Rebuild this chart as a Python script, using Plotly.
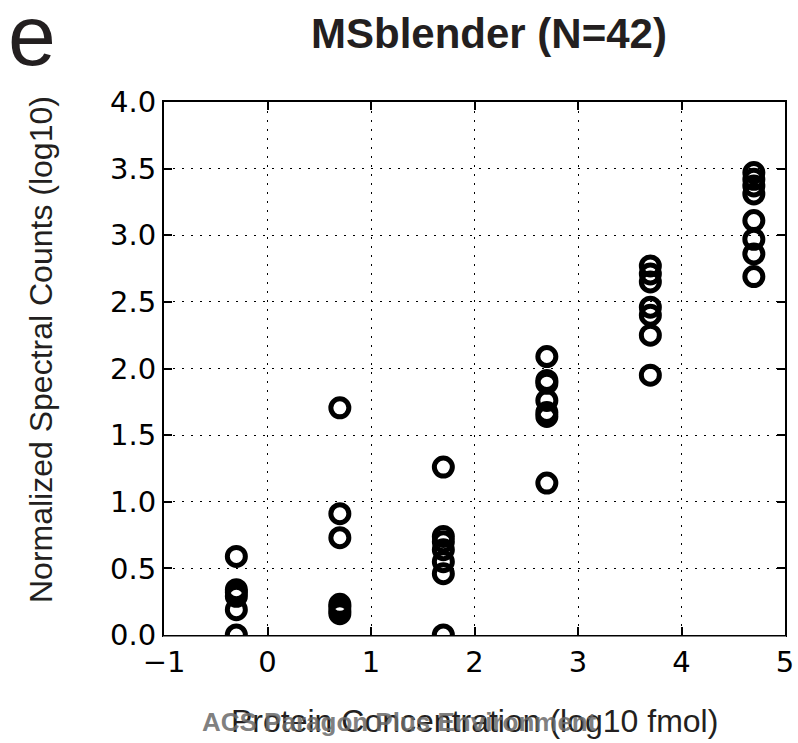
import plotly.graph_objects as go

# log10 protein concentration (fmol) for each spike-in level
conc_log = [-0.301, 0.699, 1.699, 2.699, 3.699, 4.699]

# normalized spectral counts (log10) observed at each level
counts_lvl1 = [0.59, 0.34, 0.32, 0.29, 0.19, 0.0]
counts_lvl2 = [1.705, 0.91, 0.73, 0.23, 0.21, 0.18, 0.16]
counts_lvl3 = [1.26, 0.74, 0.70, 0.64, 0.55, 0.46, 0.0]
counts_lvl4 = [2.09, 1.91, 1.89, 1.76, 1.67, 1.64, 1.14]
counts_lvl5 = [2.77, 2.71, 2.65, 2.46, 2.40, 2.25, 1.95]
counts_lvl6 = [3.47, 3.42, 3.37, 3.31, 3.11, 2.97, 2.86, 2.69]

groups = [counts_lvl1, counts_lvl2, counts_lvl3, counts_lvl4, counts_lvl5, counts_lvl6]

x_ticks = [-1, 0, 1, 2, 3, 4, 5]
x_ticktext = ["\u22121", "0", "1", "2", "3", "4", "5"]
y_ticks = [0.0, 0.5, 1.0, 1.5, 2.0, 2.5, 3.0, 3.5, 4.0]

xs, ys = [], []
for xv, vals in zip(conc_log, groups):
    xs += [xv] * len(vals)
    ys += vals

fig = go.Figure()
fig.add_trace(go.Scatter(
    x=xs, y=ys, mode="markers", cliponaxis=True,
    marker=dict(symbol="circle-open", size=18, color="black", line=dict(width=5)),
    showlegend=False,
))

W, H = 798, 743
L, R, T, B = 164, 13, 102, 108
pw, ph = W - L - R, H - T - B


def px(xp):
    return (xp - L) / pw


def py(yp):
    return (H - B - yp) / ph


axis_common = dict(
    showline=True, linewidth=2, linecolor="black", mirror="allticks",
    ticks="inside", ticklen=8, tickwidth=1.5, tickcolor="black",
    showgrid=True, gridcolor="black", gridwidth=1, griddash="2px,7px",
    zeroline=False, automargin=False,
    tickfont=dict(family="DejaVu Sans", size=29, color="black"),
)

fig.update_xaxes(range=[-1, 5], tickvals=x_ticks, ticktext=x_ticktext, **axis_common)
fig.update_yaxes(range=[0, 4], tickvals=y_ticks, tickformat=".1f", **axis_common)

label_font = "Liberation Sans, Arial, Helvetica, sans-serif"
ink = "#231f20"

annotations = [
    dict(text="e", x=px(32), y=py(35), font=dict(family=label_font, size=86, color=ink)),
    dict(text="<b>MSblender (N=42)</b>", x=px(489), y=py(34),
         font=dict(family=label_font, size=42, color=ink)),
    dict(text="Normalized Spectral Counts (log10)", x=px(41), y=py(350), textangle=-90,
         font=dict(family=label_font, size=32, color=ink)),
    dict(text="Protein Concentration (log10 fmol)", x=px(474.5), y=py(721),
         font=dict(family=label_font, size=32, color=ink)),
    dict(text="<b>ACS Paragon Plus Environment</b>", x=px(399), y=py(722),
         font=dict(family=label_font, size=26, color="rgba(105,105,105,0.85)")),
]
for a in annotations:
    a.update(xref="paper", yref="paper", xanchor="center", yanchor="middle", showarrow=False)

# white strip just under the frame so markers sitting on y=0 are cut at the axis
fig.add_shape(type="rect", xref="paper", yref="paper", layer="above",
              x0=px(L - 1), x1=px(W - R + 1), y0=py(647), y1=py(636.5),
              line=dict(width=0), fillcolor="white")

fig.update_layout(
    width=W, height=H,
    margin=dict(l=L, r=R, t=T, b=B),
    plot_bgcolor="white", paper_bgcolor="white",
    annotations=annotations,
)

fig.write_html("out.html")
